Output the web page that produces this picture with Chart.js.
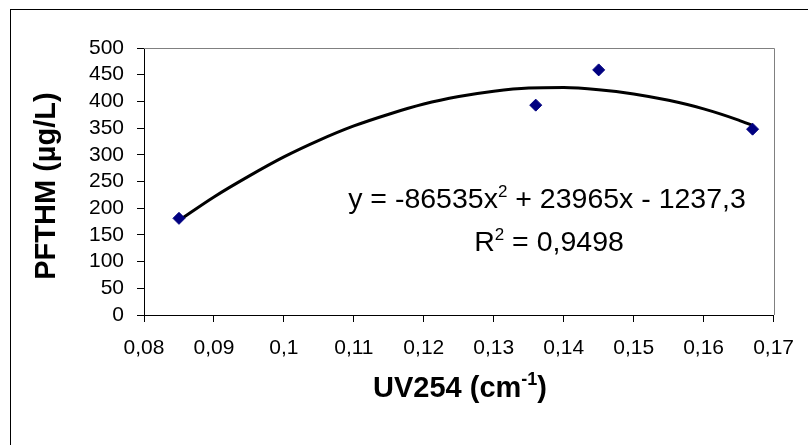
<!DOCTYPE html>
<html>
<head>
  <meta charset="utf-8">
  <title>PFTHM vs UV254</title>
  <style>
    html, body { margin: 0; padding: 0; background: #ffffff; }
    canvas { display: block; }
  </style>
  <script src="https://cdn.jsdelivr.net/npm/chart.js"></script>
</head>
<body>
  <canvas id="pfthmChart" width="808" height="445"></canvas>

  <script>
    // measured samples
    const uv254 = [0.085, 0.136, 0.145, 0.167];
    const pfthm = [181, 393, 459, 348];

    // polynomial trend line, sampled along the x range
    const fitX = [0.085, 0.09, 0.095, 0.1, 0.105, 0.11, 0.115, 0.12, 0.125, 0.13,
                  0.135, 0.14, 0.145, 0.15, 0.155, 0.16, 0.165, 0.167];
    const fitY = [177, 221, 260, 296, 327, 354, 376, 395, 409, 419,
                  425, 426, 422, 414, 402, 386, 365, 355];

    const xTicks = [0.08, 0.09, 0.1, 0.11, 0.12, 0.13, 0.14, 0.15, 0.16, 0.17];
    const yTicks = [0, 50, 100, 150, 200, 250, 300, 350, 400, 450, 500];

    const xTitle = ['UV254 (cm', '-1', ')'];
    const yTitle = 'PFTHM (µg/L)';
    const equation = ['y = -86535x', '2', ' + 23965x - 1237,3'];
    const rSquared = ['R', '2', ' = 0,9498'];

    const FONT = "'Liberation Sans', Arial, sans-serif";

    const commaNum = v => String(Math.round(v * 100) / 100).replace('.', ',');

    // draws text made of [base, superscript, base] pieces, centred on cx
    function drawSupText(ctx, parts, cx, baseline, size, supSize, rise, weight) {
      const base = weight + ' ' + size + 'px ' + FONT;
      const sup = weight + ' ' + supSize + 'px ' + FONT;
      ctx.font = base;
      const w0 = ctx.measureText(parts[0]).width;
      const w2 = ctx.measureText(parts[2]).width;
      ctx.font = sup;
      const w1 = ctx.measureText(parts[1]).width;
      let x = cx - (w0 + w1 + w2) / 2;
      ctx.textAlign = 'left';
      ctx.textBaseline = 'alphabetic';
      ctx.font = base;
      ctx.fillText(parts[0], x, baseline);
      x += w0;
      ctx.font = sup;
      ctx.fillText(parts[1], x, baseline - rise);
      x += w1;
      ctx.font = base;
      ctx.fillText(parts[2], x, baseline);
    }

    const decorations = {
      id: 'decorations',
      beforeDraw(chart) {
        const ctx = chart.ctx;
        ctx.save();
        ctx.fillStyle = '#ffffff';
        ctx.fillRect(0, 0, chart.width, chart.height);
        // outer chart frame
        ctx.strokeStyle = '#000000';
        ctx.lineWidth = 1;
        ctx.strokeRect(10.5, 9.5, 900, 500);
        ctx.restore();
      },
      afterDatasetsDraw(chart) {
        const { ctx, chartArea: a } = chart;
        ctx.save();
        // plot area frame, top and right sides
        ctx.strokeStyle = '#808080';
        ctx.lineWidth = 1;
        ctx.beginPath();
        ctx.moveTo(a.left, Math.round(a.top) + 0.5);
        ctx.lineTo(Math.round(a.right) + 0.5, Math.round(a.top) + 0.5);
        ctx.lineTo(Math.round(a.right) + 0.5, a.bottom);
        ctx.stroke();

        ctx.fillStyle = '#000000';
        drawSupText(ctx, equation, 547, 208, 28.5, 17, 11, 'normal');
        drawSupText(ctx, rSquared, 549, 251, 28.5, 17, 11, 'normal');
        drawSupText(ctx, xTitle, 460, 397, 29, 18, 12, 'bold');

        ctx.translate(55, 186);
        ctx.rotate(-Math.PI / 2);
        ctx.font = 'bold 29px ' + FONT;
        ctx.textAlign = 'center';
        ctx.textBaseline = 'alphabetic';
        ctx.fillText(yTitle, 0, 0);
        ctx.restore();
      }
    };

    const points = uv254.map((x, i) => ({ x: x, y: pfthm[i] }));
    const curve = fitX.map((x, i) => ({ x: x, y: fitY[i] }));

    new Chart(document.getElementById('pfthmChart'), {
      type: 'scatter',
      data: {
        datasets: [
          {
            label: 'PFTHM',
            data: points,
            pointStyle: 'rectRot',
            pointRadius: 6,
            backgroundColor: '#000080',
            borderColor: '#000080',
            borderWidth: 1,
            showLine: false
          },
          {
            label: 'Poly. (PFTHM)',
            data: curve,
            showLine: true,
            pointRadius: 0,
            borderColor: '#000000',
            borderWidth: 3,
            cubicInterpolationMode: 'monotone',
            fill: false
          }
        ]
      },
      options: {
        responsive: false,
        animation: false,
        layout: { padding: { top: 48, right: 31, left: 0, bottom: 0 } },
        plugins: {
          legend: { display: false },
          tooltip: { enabled: false }
        },
        scales: {
          x: {
            type: 'linear',
            min: 0.08,
            max: 0.17,
            afterBuildTicks: s => { s.ticks = xTicks.map(v => ({ value: v })); },
            afterFit: s => { s.height = 130; },
            ticks: {
              callback: v => commaNum(v),
              color: '#000000',
              font: { family: FONT, size: 21 },
              padding: 14,
              maxRotation: 0,
              autoSkip: false
            },
            grid: { drawOnChartArea: false, drawTicks: true, tickLength: 7, color: '#000000' },
            border: { color: '#000000', width: 1 }
          },
          y: {
            min: 0,
            max: 500,
            afterBuildTicks: s => { s.ticks = yTicks.map(v => ({ value: v })); },
            afterFit: s => { s.width = 144; },
            ticks: {
              callback: v => String(v),
              color: '#000000',
              font: { family: FONT, size: 21 },
              padding: 13,
              autoSkip: false
            },
            grid: { drawOnChartArea: false, drawTicks: true, tickLength: 7, color: '#000000' },
            border: { color: '#000000', width: 1 }
          }
        }
      },
      plugins: [decorations]
    });
  </script>
</body>
</html>
